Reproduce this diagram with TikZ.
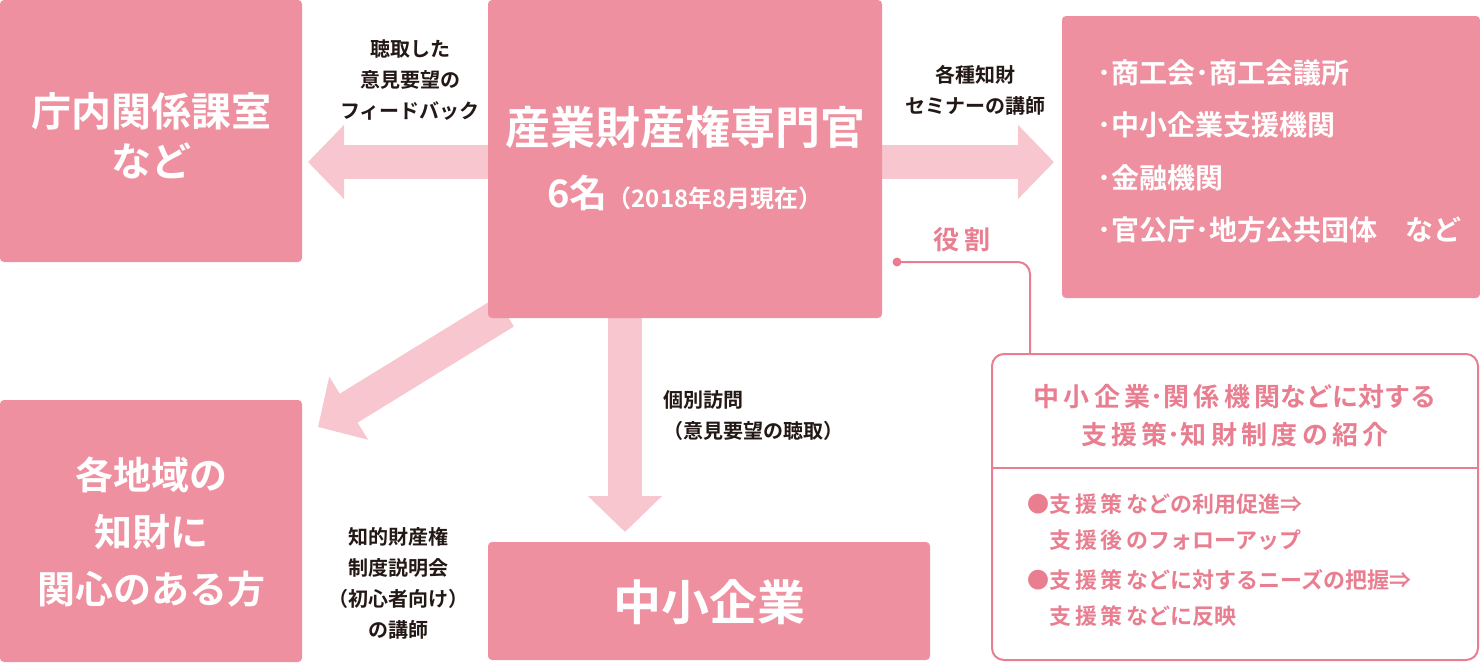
\documentclass[tikz,border=0pt]{standalone}
\usepackage{fontspec}
\setmainfont{Noto Sans CJK JP}[BoldFont={Noto Sans CJK JP Bold}]
\usetikzlibrary{arrows.meta}
\definecolor{pk}{HTML}{EE909F}
\definecolor{lp}{HTML}{F7C6CE}
\definecolor{tp}{HTML}{E87E90}
\definecolor{tx}{HTML}{231815}
\newcommand{\md}{･}
\tikzset{box/.style={fill=pk,rounded corners=4pt},
 wt/.style={text=white,font=\bfseries\fontsize{40}{50}\selectfont,align=center},
 lab/.style={text=tx,font=\bfseries\fontsize{20}{31}\selectfont,align=center},
 bigarr/.style={draw=lp,line width=34pt,-{Triangle[width=72pt,length=36pt]}}}
\begin{document}
\begin{tikzpicture}[x=1pt,y=-1pt]
\useasboundingbox (0,0) rectangle (1480,665);
% arrows
\coordinate (lS) at (488,162); \coordinate (lE) at (308,162);
\coordinate (rS) at (882,162); \coordinate (rE) at (1054,162);
\coordinate (dS) at (625,318); \coordinate (dE) at (625,532);
\coordinate (gS) at (505,312); \coordinate (gE) at (318,427);
\draw[bigarr] (lS)--(lE);
\draw[bigarr] (rS)--(rE);
\draw[bigarr] (dS)--(dE);
\draw[bigarr] (gS)--(gE);
% boxes
\fill[box] (0,0) rectangle (302,262);
\node[wt] (a) at (151,136) {庁内関係課室\\など};
\fill[box] (488,0) rectangle (882,318);
\node[wt,font=\bfseries\fontsize{45}{50}\selectfont] (c) at (685,127) {産業財産権専門官};
\node[wt,font=\bfseries\fontsize{38}{44}\selectfont] (c2) at (685,193) {6名{\fontsize{24}{28}\selectfont（2018年8月現在）}};
\fill[box] (1062,16) rectangle (1480,298);
\node[text=white,font=\bfseries\fontsize{28}{52.5}\selectfont,align=left,anchor=north west] (r) at (1094,56) {\md 商工会\md 商工会議所\\\md 中小企業支援機関\\\md 金融機関\\\md 官公庁\md 地方公共団体\quad など};
\fill[box] (0,400) rectangle (302,662);
\node[wt,font=\bfseries\fontsize{38}{57}\selectfont] (b) at (151,532) {各地域の\\知財に\\関心のある方};
\fill[box] (488,542) rectangle (930,660);
\node[wt,font=\bfseries\fontsize{48}{52}\selectfont] (s) at (709,602) {中小企業};
% labels
\node[lab] (l1) at (410,80) {聴取した\\意見要望の\\フィードバック};
\node[lab] (l2) at (975,90) {各種知財\\セミナーの講師};
\node[lab,align=left,anchor=west] (l3) at (660,416) {個別訪問\\（意見要望の聴取）};
\node[lab] (l4) at (398,583) {知的財産権\\制度説明会\\（初心者向け）\\の講師};
% role
\node[text=tp,font=\bfseries\fontsize{26}{30}\selectfont] (role) at (962,240) {役 割};
\fill[tp] (897,262) circle (4.5);
\coordinate (rd) at (897,262);
\draw[tp,line width=2pt,rounded corners=12pt] (rd) -- (1030,262) -- (1030,354);
\draw[tp,line width=2pt,rounded corners=12pt] (992,354) rectangle (1478,660);
\draw[tp,line width=1.5pt] (992,468) -- (1478,468);
\node[text=tp,font=\bfseries\fontsize{26}{38}\selectfont,align=center] (rt) at (1235,416) {中\,小\,企\,業\md 関\,係\,機\,関などに対する\\支\,援\,策\md 知\,財\,制\,度\,の\,紹\,介};
\node[text=tp,font=\bfseries\fontsize{22}{36}\selectfont,align=left,anchor=north west] (rb) at (1024,490) {●支\,援\,策\,などの利用促進⇒\\\phantom{●}支\,援\,後\,のフォローアップ\\[4pt]●支\,援\,策\,などに対するニーズの把握⇒\\\phantom{●}支\,援\,策\,などに反映};
\end{tikzpicture}
\end{document}
